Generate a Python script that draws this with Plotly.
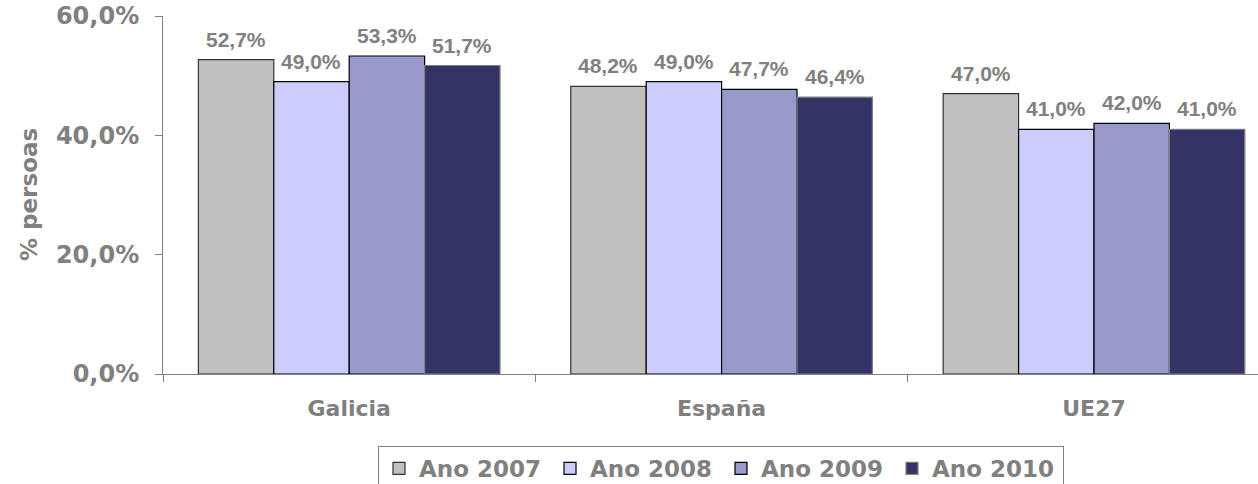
import plotly.graph_objects as go

categories = ["Galicia", "España", "UE27"]
series_names = ["Ano 2007", "Ano 2008", "Ano 2009", "Ano 2010"]
values_2007 = [52.7, 48.2, 47.0]
values_2008 = [49.0, 49.0, 41.0]
values_2009 = [53.3, 47.7, 42.0]
values_2010 = [51.7, 46.4, 41.0]
tick_vals = [0, 20, 40, 60]
tick_text = ["0,0%", "20,0%", "40,0%", "60,0%"]

series_values = [values_2007, values_2008, values_2009, values_2010]
colors = ["#C0C0C0", "#CCCCFF", "#9999CC", "#333366"]
line_colors = ["#333333", "#000000", "#000000", "#7F7F7F"]

GRAY = "#808080"
VERDANA = "DejaVu Sans"
ARIAL = "Liberation Sans"

W, H = 1258, 484
ml, mt, mb = 163, 16, 110
plot_w = W - ml
plot_h = H - mt - mb
unit = 372.4
xmax = -0.5 + plot_w / unit
bargap = 0.19
bar_px = unit * (1 - bargap) / len(series_names)

fig = go.Figure()
annotations = []
for i, (name, vals, col, lc) in enumerate(zip(series_names, series_values, colors, line_colors)):
    fig.add_trace(go.Bar(
        x=categories, y=vals, name=name,
        marker=dict(color=col, line=dict(color=lc, width=1.2)),
        cliponaxis=False,
    ))
    for c, v in zip(categories, vals):
        annotations.append(dict(
            x=c, y=v, xref="x", yref="y",
            xshift=(i - (len(series_names) - 1) / 2) * bar_px,
            yshift=7,
            yanchor="bottom", xanchor="center",
            text=f"{v:.1f}%".replace(".", ","),
            showarrow=False,
            font=dict(family=ARIAL, size=21, color=GRAY, weight="bold"),
        ))

annotations.append(dict(
    x=(29 - ml) / plot_w, y=0.5, xref="paper", yref="paper",
    text="% persoas", textangle=-90, showarrow=False,
    xanchor="center", yanchor="middle",
    font=dict(family=VERDANA, size=23, color=GRAY, weight="bold"),
))

fig.update_layout(
    width=W, height=H,
    margin=dict(l=ml, r=0, t=mt, b=mb, autoexpand=False),
    paper_bgcolor="white", plot_bgcolor="white",
    barmode="group", bargap=bargap, bargroupgap=0,
    separators=",.",
    showlegend=True,
    annotations=annotations,
    legend=dict(
        orientation="h",
        x=(721 - ml) / plot_w, xanchor="center",
        y=(374 - 446) / plot_h, yanchor="top",
        font=dict(family=VERDANA, size=23, color=GRAY, weight="bold"),
        bordercolor=GRAY, borderwidth=1,
        entrywidth=126, entrywidthmode="pixels",
        itemwidth=30,
        traceorder="normal",
    ),
    xaxis=dict(
        range=[-0.5, xmax], automargin=False,
        showline=True, linecolor=GRAY, linewidth=1,
        ticks="outside", tickson="boundaries", ticklen=7, tickcolor=GRAY,
        tickfont=dict(family=VERDANA, size=22, color=GRAY, weight="bold"),
        showgrid=False,
        ticklabelstandoff=15,
    ),
    yaxis=dict(
        range=[0, 60], automargin=False,
        tickvals=tick_vals, ticktext=tick_text,
        showline=True, linecolor=GRAY, linewidth=1,
        ticks="outside", ticklen=7, tickcolor=GRAY,
        tickfont=dict(family=VERDANA, size=24, color=GRAY, weight="bold"),
        showgrid=False, zeroline=False,
        ticklabelstandoff=11,
        ticklabeloverflow="allow",
    ),
)

fig.write_html(
    "out.html",
    config={"displayModeBar": False},
    post_script="document.body.style.margin='0';document.body.style.overflow='hidden';",
)
